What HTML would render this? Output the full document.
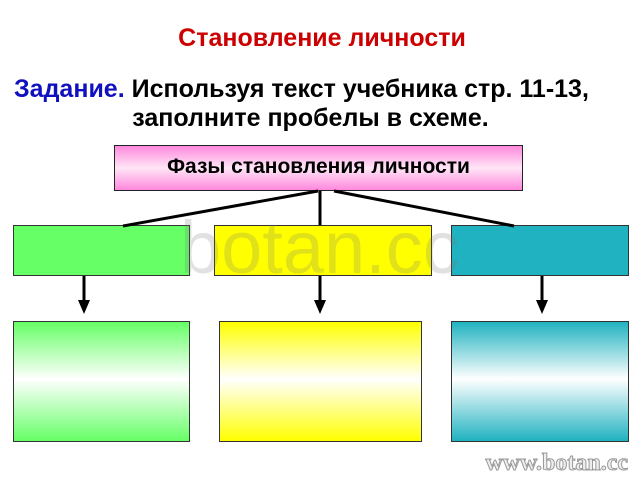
<!DOCTYPE html>
<html><head><meta charset="utf-8"><style>
body{margin:0;width:640px;height:480px;background:#fff;position:relative;overflow:hidden;font-family:"Liberation Sans","Noto Sans CJK SC",sans-serif}
.t{position:absolute;font-weight:bold;white-space:nowrap}
.b{position:absolute;border:1px solid #333;box-sizing:border-box}
</style></head><body>
<div class="t" style="left:0;width:644px;text-align:center;top:24px;font-size:25px;color:#cc0000">Становление личности</div>
<div class="t" style="left:14px;top:75px;font-size:25px;color:#000"><span style="color:#1010c0">Задание.</span> Используя текст учебника стр. 11-13,</div>
<div class="t" style="left:0;width:621px;text-align:center;top:104px;font-size:25px;color:#000">заполните пробелы в схеме.</div>
<div class="b" style="left:114px;top:145px;width:409px;height:46px;background:linear-gradient(#ff88dd,#ffe6f6 50%,#ff88dd);border-color:#222"></div>
<div class="t" style="left:114px;width:409px;text-align:center;top:155px;font-size:21px">Фазы становления личности</div>
<div class="b" style="left:13px;top:225px;width:177px;height:51px;background:#66ff66"></div>
<div class="b" style="left:214px;top:225px;width:218px;height:51px;background:#ffff00"></div>
<div class="b" style="left:451px;top:225px;width:178px;height:51px;background:#20b2c0"></div>
<div class="t" style="left:180px;top:205px;font-size:74px;font-weight:normal;color:rgba(120,120,120,0.22)">botan.cc</div>
<div class="b" style="left:13px;top:321px;width:177px;height:121px;background:linear-gradient(#66ff66,#fff 48%,#66ff66)"></div>
<div class="b" style="left:219px;top:321px;width:203px;height:121px;background:linear-gradient(#ffff00,#fff 48%,#ffff00)"></div>
<div class="b" style="left:451px;top:321px;width:178px;height:121px;background:linear-gradient(#20b2c0,#fff 48%,#20b2c0)"></div>
<svg style="position:absolute;left:0;top:0" width="640" height="480">
<g stroke="#000" stroke-width="3" fill="none">
<line x1="318" y1="191" x2="123" y2="226"/>
<line x1="320" y1="191" x2="320" y2="225"/>
<line x1="334" y1="191" x2="514" y2="226"/>
<line x1="84" y1="276" x2="84" y2="302"/>
<line x1="320" y1="276" x2="320" y2="302"/>
<line x1="542" y1="276" x2="542" y2="302"/>
</g>
<g fill="#000">
<polygon points="78,300 90,300 84,314"/>
<polygon points="314,300 326,300 320,314"/>
<polygon points="536,300 548,300 542,314"/>
</g>
<text x="628" y="470" text-anchor="end" font-family="Liberation Serif,serif" font-weight="bold" font-size="24" fill="#eee" stroke="#999" stroke-width="1">www.botan.cc</text>
</svg>
</body></html>
